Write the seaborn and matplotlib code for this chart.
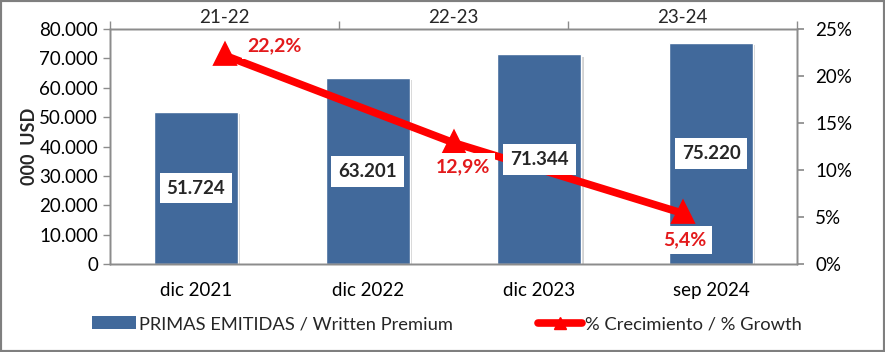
import matplotlib
matplotlib.use("Agg")
import matplotlib.pyplot as plt
import matplotlib.patheffects as pe
from matplotlib.patches import Rectangle, Patch
from matplotlib.lines import Line2D
from matplotlib.ticker import FuncFormatter, MultipleLocator
import pandas as pd
import seaborn as sns

# datos
fechas = ["dic 2021", "dic 2022", "dic 2023", "sep 2024"]
primas = [51724, 63201, 71344, 75220]
periodos = ["21-22", "22-23", "23-24"]
crecimiento = [22.2, 12.9, 5.4]

azul = "#41699B"
rojo = "#FF0000"
gris = "#8C8C8C"

sns.set_theme(style="white")
plt.rcParams["font.family"] = ["Lato", "DejaVu Sans"]

fig = plt.figure(figsize=(8.85, 3.52), dpi=100)
ax = fig.add_axes([110 / 885, 1 - 264 / 352, 687 / 885, 235 / 352])

df_bar = pd.DataFrame({"fecha": fechas, "primas": primas})
sns.barplot(data=df_bar, x="fecha", y="primas", color=azul, saturation=1,
            width=0.49, ax=ax, zorder=2)
for b in ax.patches:
    b.set_path_effects([pe.SimplePatchShadow(offset=(1.5, -1.5), shadow_rgbFace="gray", alpha=0.35),
                        pe.Normal()])

ax.set_ylim(0, 80000)
ax.yaxis.set_major_locator(MultipleLocator(10000))
ax.yaxis.set_major_formatter(FuncFormatter(lambda v, p: f"{v:,.0f}".replace(",", ".")))
ax.set_xlabel("")
ax.set_ylabel("000  USD", fontsize=13, fontweight="bold", labelpad=1)
ax.tick_params(axis="both", labelsize=13.5, colors="black", length=5, width=1,
               color=gris, direction="out")
ax.tick_params(axis="x", pad=13)
ax.set_xticks([-0.5, 0.5, 1.5, 2.5, 3.5], minor=True)
ax.tick_params(axis="x", which="major", length=0)
ax.tick_params(axis="x", which="minor", length=6, color=gris, direction="out")
for s in ax.spines.values():
    s.set_color(gris)
    s.set_linewidth(1)

# eje secundario para crecimiento
ax2 = ax.twinx()
ax3 = ax2.twiny()
df_line = pd.DataFrame({"periodo": periodos, "crec": crecimiento})
sns.pointplot(data=df_line, x="periodo", y="crec", color=rojo, markers="^",
              markersize=11, linewidth=5.5, ax=ax3)
ax3.set_xlim(-0.5, 2.5)
ax2.set_ylim(0, 25)
ax3.set_ylim(0, 25)
ax2.yaxis.set_major_locator(MultipleLocator(5))
ax2.yaxis.set_major_formatter(FuncFormatter(lambda v, p: f"{v:.0f}%"))
ax2.tick_params(axis="y", labelsize=13.5, colors="black", length=5, color=gris, pad=8)
ax3.set_xlabel("")
ax3.set_ylabel("")
ax3.set_xticks([-0.5, 0.5, 1.5, 2.5], minor=True)
ax3.tick_params(axis="x", which="major", length=0, labelsize=13.5, pad=2)
ax3.tick_params(axis="x", which="minor", length=6, color=gris, direction="out")
for a in (ax2, ax3):
    for s in a.spines.values():
        s.set_color(gris)
        s.set_linewidth(1)

# etiquetas de barras (encima de la linea)
for i, v in enumerate(primas):
    ax3.annotate(f"{v:,.0f}".replace(",", "."), xy=(i, v / 2), xycoords=ax.transData,
                 ha="center", va="center", fontsize=13.5, fontweight="bold",
                 zorder=5, bbox=dict(facecolor="white", edgecolor="none", pad=5))

offsets = [(50, 10), (9, -24), (2, -27)]
for i, (v, off) in enumerate(zip(crecimiento, offsets)):
    ax3.annotate(f"{v:.1f}%".replace(".", ","), xy=(i, v), xytext=off,
                 textcoords="offset pixels", ha="center", va="center",
                 fontsize=14, fontweight="bold", color="#E31A1C", zorder=5,
                 bbox=dict(facecolor="white", edgecolor="none", pad=4))

handles = [Patch(facecolor=azul, edgecolor="none"),
           Line2D([], [], color=rojo, lw=5.5, marker="^", markersize=9)]
fig.legend(handles, ["PRIMAS EMITIDAS / Written Premium", "% Crecimiento / % Growth"],
           loc="center", bbox_to_anchor=(0.505, 1 - 324 / 352), ncol=2, frameon=False,
           fontsize=13.2, columnspacing=4.6, handlelength=2.4, handletextpad=0.2)

fig.patches.append(Rectangle((0, 0), 1, 1, transform=fig.transFigure, fill=False,
                             edgecolor="#7F7F7F", linewidth=3))

fig.savefig("out.png", dpi=100)
